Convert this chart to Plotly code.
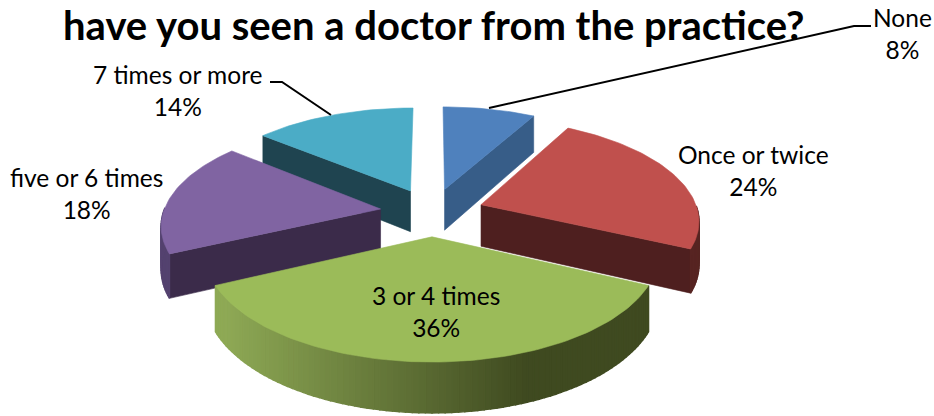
import math
import plotly.graph_objects as go

# --- data ---
categories = ["None", "Once or twice", "3 or 4 times", "five or 6 times", "7 times or more"]
percent_values = [8, 24, 36, 18, 14]
title_text = "have you seen a doctor from the practice?"

# --- style ---
top_colors = ["#4F81BD", "#C0504D", "#9BBB59", "#8064A2", "#4BACC6"]
cut_colors = ["#375D88", "#4E1F1F", "#3F4A20", "#3B2B4A", "#1F4450"]
rim_colors = ["#375D88", "#572422", "#3F4A20", "#54426F", "#1F4450"]
draw_order = [4, 0, 3, 1, 2]
label_xy = [(902, 33), (753, 170), (436, 311), (86, 193), (178, 90)]
FONT = "Lato, Carlito, 'Open Sans', sans-serif"
W, H = 934, 416

# --- projection of the tilted, exploded disk onto the page ---
CX, CY, RX, RY, PERSP, PULL, DEPTH = 432, 212, 217, 100, 0.14, 0.24, 42


def project(x, v, z=0.0):
    s = 1.0 / (1.0 - PERSP * v)
    return CX + RX * x * s, CY + RY * v * s + z * DEPTH * s


def lerp_hex(a, b, t):
    pa = [int(a[i:i + 2], 16) for i in (1, 3, 5)]
    pb = [int(b[i:i + 2], 16) for i in (1, 3, 5)]
    return "#" + "".join(f"{round(p + (q - p) * t):02X}" for p, q in zip(pa, pb))


fig = go.Figure()


def poly(points, color, name, width=0.6):
    xs = [p[0] for p in points] + [points[0][0]]
    ys = [p[1] for p in points] + [points[0][1]]
    fig.add_trace(go.Scatter(
        x=xs, y=ys, mode="lines", fill="toself", fillcolor=color,
        line=dict(color=color, width=width), name=name, showlegend=False,
        hoverinfo="name"))


total = sum(percent_values)
spans = []
acc = 0.0
for val in percent_values:
    a0 = acc / total * 2 * math.pi
    acc += val
    spans.append((a0, acc / total * 2 * math.pi))

for idx in draw_order:
    a0, a1 = spans[idx]
    mid = (a0 + a1) / 2
    ox, ov = PULL * math.sin(mid), -PULL * math.cos(mid)
    n = max(16, int(abs(a1 - a0) * 40))
    angles = [a0 + (a1 - a0) * k / n for k in range(n + 1)]
    rim = [(ox + math.sin(t), ov - math.cos(t)) for t in angles]
    name = f"{categories[idx]}: {percent_values[idx]}%"

    # cut walls that face the viewer
    if math.sin(a0) < -1e-6:
        poly([project(ox, ov), project(*rim[0]), project(*rim[0], 1), project(ox, ov, 1)],
             cut_colors[idx], name)
    if math.sin(a1) > 1e-6:
        poly([project(ox, ov), project(*rim[-1]), project(*rim[-1], 1), project(ox, ov, 1)],
             cut_colors[idx], name)

    # outer wall, built from short facets (the big front slice is shaded left to right)
    for k in range(n):
        if -math.cos((angles[k] + angles[k + 1]) / 2) <= 0:
            continue
        p0, p1 = rim[k], rim[k + 1]
        quad = [project(*p0), project(*p1), project(*p1, 1), project(*p0, 1)]
        color = rim_colors[idx]
        if idx == 2:
            mx = (quad[0][0] + quad[1][0]) / 2
            color = lerp_hex("#8EA955", "#3F4A20", min(1.0, max(0.0, (mx - 225) / 300)))
        poly(quad, color, name, width=1.5)

    # top face
    poly([project(ox, ov)] + [project(*p) for p in rim], top_colors[idx], name)

# --- labels ---
annotations = [
    dict(x=x, y=y, xref="x", yref="y", showarrow=False, align="center",
         text=f"{c}<br>{v}%", font=dict(family=FONT, size=24.5, color="#000000"))
    for c, v, (x, y) in zip(categories, percent_values, label_xy)
]
annotations.append(dict(
    x=433, y=25, xref="x", yref="y", showarrow=False, text=f"<b>{title_text}</b>",
    font=dict(family=FONT, size=40, color="#000000")))

# --- leader lines ---
shapes = [
    dict(type="path", path="M 489 108 L 854 26 L 871 26", xref="x", yref="y",
         line=dict(color="#000000", width=2)),
    dict(type="path", path="M 331 115 L 282 82 L 270 82", xref="x", yref="y",
         line=dict(color="#000000", width=2)),
]

fig.update_layout(
    width=W, height=H, margin=dict(l=0, r=0, t=0, b=0),
    paper_bgcolor="#FFFFFF", plot_bgcolor="#FFFFFF", showlegend=False,
    xaxis=dict(range=[0, W], visible=False, fixedrange=True),
    yaxis=dict(range=[H, 0], visible=False, fixedrange=True),
    annotations=annotations, shapes=shapes,
)
fig.write_html("out.html", post_script="document.body.style.margin='0';",
               config={"displayModeBar": False})
